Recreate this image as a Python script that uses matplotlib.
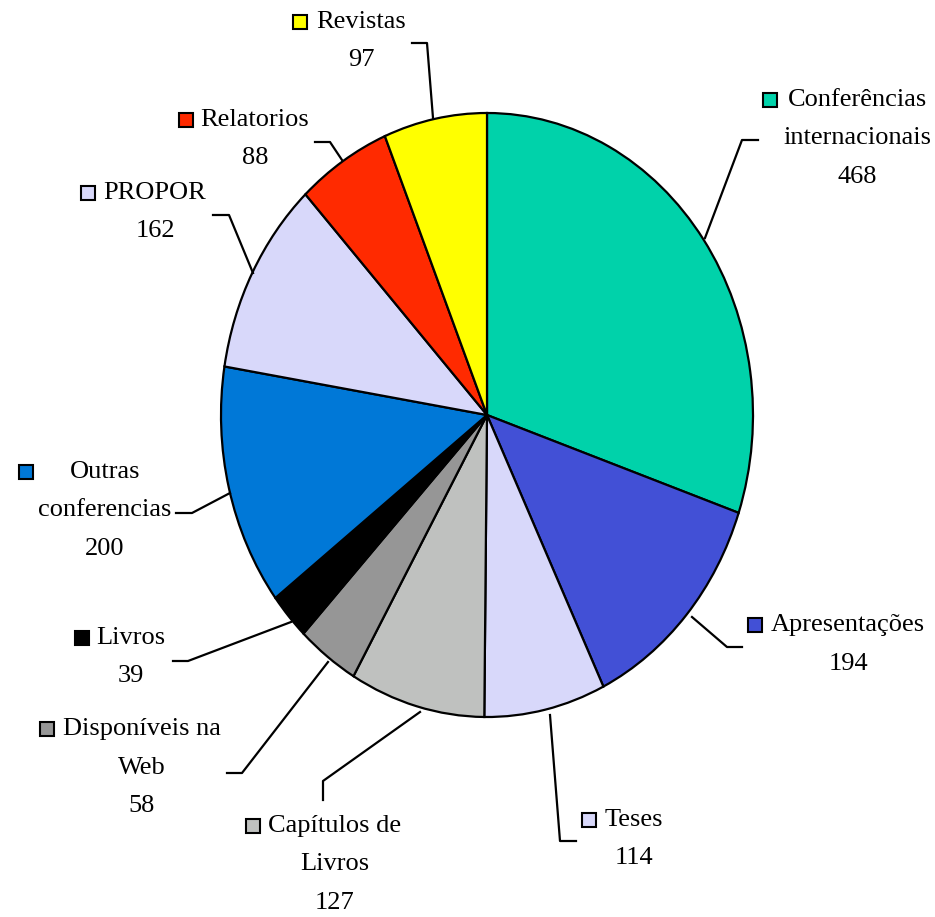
import numpy as np
import matplotlib.pyplot as plt
from matplotlib.patches import Rectangle

categories = ['Conferências internacionais', 'Apresentações', 'Teses', 'Capítulos de Livros',
              'Disponíveis na Web', 'Livros', 'Outras conferencias', 'PROPOR', 'Relatorios', 'Revistas']
values = [468, 194, 114, 127, 58, 39, 200, 162, 88, 97]
# how each label is broken into lines
label_lines = [['Conferências', 'internacionais'], ['Apresentações'], ['Teses'], ['Capítulos de', 'Livros'],
               ['Disponíveis na', 'Web'], ['Livros'], ['Outras', 'conferencias'], ['PROPOR'], ['Relatorios'], ['Revistas']]
colors = ['#00D2AA', '#4250D6', '#D8D8FA', '#BFC1BF', '#969696', '#000000',
          '#0078D7', '#D8D8FA', '#FF2A00', '#FFFF00']

W, H = 935, 917
cx, cy, rx, ry = 487, 415, 266, 302

fig = plt.figure(figsize=(W / 100, H / 100), dpi=100)
ax = fig.add_axes([0, 0, 1, 1])
ax.pie(values, colors=colors, startangle=90, counterclock=False,
       wedgeprops=dict(edgecolor='black', linewidth=1.6))
ax.set_aspect('auto')
ax.set_xlim(-cx / rx, (W - cx) / rx)
ax.set_ylim(-(H - cy) / ry, cy / ry)
ax.axis('off')


def px(x, y):
    return (x - cx) / rx, (cy - y) / ry


# label layout in pixels: text centre x, first line y, marker x, leader polyline
layout = [
    (857, 100, 770, [(705, 238), (742, 140), (758, 140)]),
    (848, 625, 755, [(692, 617), (727, 647), (742, 647)]),
    (634, 820, 589, [(550, 715), (560, 841), (576, 841)]),
    (335, 826, 253, [(420, 712), (323, 781), (323, 800)]),
    (142, 729, 47, [(328, 662), (242, 773), (227, 773)]),
    (131, 638, 82, [(291, 622), (188, 661), (173, 661)]),
    (105, 472, 26, [(230, 493), (192, 513), (176, 513)]),
    (155, 193, 88, [(253, 273), (229, 215), (213, 215)]),
    (255, 120, 186, [(342, 160), (330, 142), (315, 142)]),
    (361, 22, 300, [(433, 118), (427, 43), (412, 43)]),
]

font = dict(family='Liberation Serif', fontsize=19)
step = 38.5
for lines, val, col, (tx, ty, mx, lead) in zip(label_lines, values, colors, layout):
    for i, t in enumerate(lines + [str(val)]):
        ax.text(*px(tx, ty + i * step), t, ha='center', va='center', **font)
    x0, y0 = px(mx - 7, ty + 7)
    ax.add_patch(Rectangle((x0, y0), 14 / rx, 14 / ry, facecolor=col,
                           edgecolor='black', linewidth=1.5, clip_on=False))
    pts = np.array([px(*p) for p in lead])
    ax.plot(pts[:, 0], pts[:, 1], color='black', linewidth=1.6, clip_on=False)

fig.savefig('out.png', dpi=100)
